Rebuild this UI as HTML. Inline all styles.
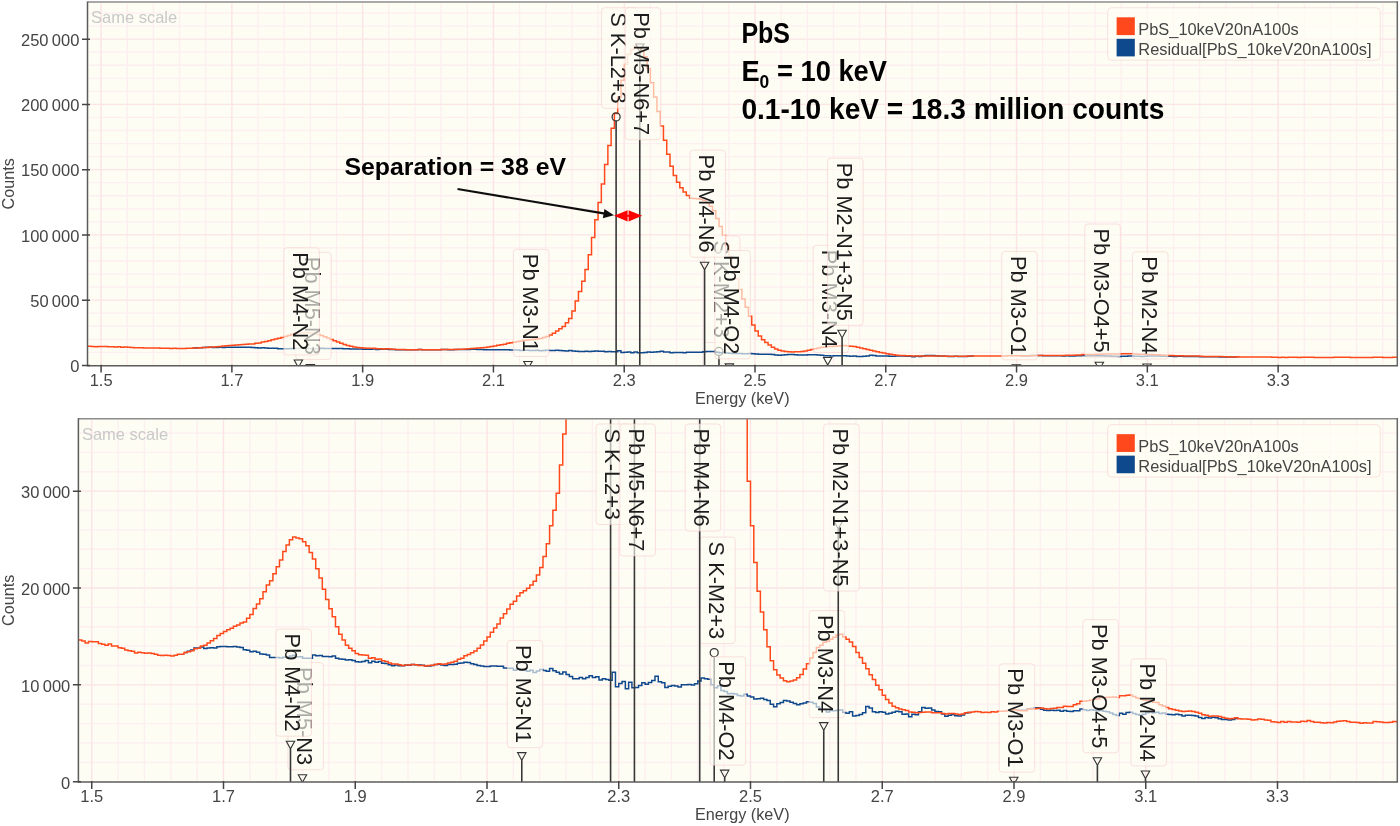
<!DOCTYPE html>
<html lang="en"><head><meta charset="utf-8"><title>PbS EDS spectrum</title>
<style>
html,body{margin:0;padding:0;background:#fff;}
svg{display:block;font-family:'Liberation Sans', Arial, Helvetica, sans-serif;will-change:transform;}
</style></head><body>
<svg width="1400" height="826" viewBox="0 0 1400 826">
<defs><filter id="soft" x="0" y="0" width="1400" height="826" filterUnits="userSpaceOnUse"><feGaussianBlur stdDeviation="0.45"/></filter></defs>
<rect width="1400" height="826" fill="#fff"/>
<g filter="url(#soft)">
<rect width="1400" height="826" fill="#fff"/>
<g id="top">
<clipPath id="clipt"><rect x="87.5" y="1.9" width="1309.8" height="363.85"/></clipPath>
<rect x="87.5" y="1.9" width="1309.8" height="363.85" fill="#fdfdf4"/>
<path d="M127.26 3.4V364.75M153.41 3.4V364.75M179.57 3.4V364.75M205.72 3.4V364.75M258.04 3.4V364.75M284.19 3.4V364.75M310.35 3.4V364.75M336.5 3.4V364.75M388.82 3.4V364.75M414.97 3.4V364.75M441.13 3.4V364.75M467.28 3.4V364.75M519.6 3.4V364.75M545.75 3.4V364.75M571.91 3.4V364.75M598.06 3.4V364.75M650.38 3.4V364.75M676.53 3.4V364.75M702.69 3.4V364.75M728.84 3.4V364.75M781.16 3.4V364.75M807.31 3.4V364.75M833.47 3.4V364.75M859.62 3.4V364.75M911.94 3.4V364.75M938.09 3.4V364.75M964.25 3.4V364.75M990.4 3.4V364.75M1042.72 3.4V364.75M1068.87 3.4V364.75M1095.03 3.4V364.75M1121.18 3.4V364.75M1173.5 3.4V364.75M1199.65 3.4V364.75M1225.81 3.4V364.75M1251.96 3.4V364.75M1304.28 3.4V364.75M1330.43 3.4V364.75M1356.59 3.4V364.75M1382.74 3.4V364.75M89 352.35H1396.3M89 339.3H1396.3M89 326.25H1396.3M89 313.2H1396.3M89 287.1H1396.3M89 274.05H1396.3M89 261H1396.3M89 247.95H1396.3M89 221.85H1396.3M89 208.8H1396.3M89 195.75H1396.3M89 182.7H1396.3M89 156.6H1396.3M89 143.55H1396.3M89 130.5H1396.3M89 117.45H1396.3M89 91.35H1396.3M89 78.3H1396.3M89 65.25H1396.3M89 52.2H1396.3M89 26.1H1396.3M89 13.05H1396.3" stroke="#fdeeef" stroke-width="1.3" fill="none"/>
<path d="M101.1 3.4V364.75M231.88 3.4V364.75M362.66 3.4V364.75M493.44 3.4V364.75M624.22 3.4V364.75M755 3.4V364.75M885.78 3.4V364.75M1016.56 3.4V364.75M1147.34 3.4V364.75M1278.12 3.4V364.75M89 300.15H1396.3M89 234.9H1396.3M89 169.65H1396.3M89 104.4H1396.3M89 39.15H1396.3" stroke="#fce3e6" stroke-width="1.4" fill="none"/>
<text x="91" y="23.3" font-size="16.5" fill="#c9c9c9">Same scale</text>
<g clip-path="url(#clipt)" fill="none" stroke-linejoin="miter">
<path d="M192.65 347.99H195.92V347.83H199.18V347.65H202.45V347.38H205.72V347.37H208.99V347.23H212.26V347.44H215.53V347.4H218.8V347.36H222.07V347.38H225.34V347.22H228.61V347.19H231.88V347.17H235.15V347.21H238.42V347.2H241.69V347.19H244.96V347.26H248.23V347.32H251.5V347.61H254.77V347.69H258.04V347.89H261.31V347.81H264.57V347.96H267.84V348.2H271.11V348.21H274.38V348.31H277.65V348.65H280.92V348.67H284.19V348.68H287.46V348.75H290.73V348.62H294V348.6H297.27V348.47H300.54V348.35H303.81V348.56H307.08V348.56H310.35V348.76H313.62V348.77H316.89V348.77H320.16V348.34H323.43V348.42H326.7V348.38H329.96V348.51H333.23V348.53H336.5V348.57H339.77V348.45H343.04V348.76H346.31V348.87H349.58V348.91H352.85V349.01H356.12V348.98H359.39V349.08H362.66V349.24H365.93V349.26H369.2V349.2H372.47V349.06H375.74V349.38H379.01V349.16H382.28V349.3H385.55V349.22H388.82V349.43H392.09V349.48H395.35V349.64H398.62V349.77H401.89V349.67H405.16V349.77H408.43V349.78H411.7V349.69H414.97V349.72H418.24V349.62H421.51V349.63H424.78V349.68H428.05V349.72H431.32V349.81H434.59V349.81H437.86V349.74H441.13V349.61H444.4V349.56H447.67V349.67H450.94V349.73H454.21V349.62H457.48V349.59H460.74V349.58H464.01V349.42H467.28V349.4H470.55V349.3H473.82V349.34H477.09V349.5H480.36V349.6H483.63V349.73H486.9V349.82H490.17V349.86H493.44V349.86H496.71V349.8H499.98V349.8H503.25V349.85H506.52V349.85H509.79V350.08H513.06V350.11H516.33V350.1H519.6V350.38H522.87V350.23H526.13V350.36H529.4V350.4H532.67V350.51H535.94V350.37H539.21V350.68H542.48V350.47H545.75V350.29H549.02V350.42H552.29V350.52H555.56V350.15H558.83V350.44H562.1V350.66H565.37V350.89H568.64V350.62H571.91V350.96H575.18V351.23H578.45V351.53H581.72V351.51H584.99V351.35H588.26V351.54H591.52V351.37H594.79V351.12H598.06V351.35H601.33V351.25H604.6V351.69H607.87V351.51H611.14V351.64H614.41V351.72H617.68V350.66H620.95V352.6H624.22V352.18H627.49V351.89H630.76V352.86H634.03V352.01H637.3V352.74H640.57V352.72H643.84V352.45H647.11V352.06H650.38V352.25H653.65V352.04H656.91V351.76H660.18V351.2H663.45V351.94H666.72V352.08H669.99V352.71H673.26V352.53H676.53V352.43H679.8V352.51H683.07V352.63H686.34V352.32H689.61V352.32H692.88V352.31H696.15V352.36H699.42V352.21H702.69V351.83H705.96V351.44H709.23V351.52H712.5V351.61H715.77V352.33H719.04V352.73H722.3V352.48H725.57V353.1H728.84V353.26H732.11V353.55H735.38V353.51H738.65V353.57H741.92V353.77H745.19V353.84H748.46V353.62H751.73V353.86H755V353.99H758.27V354.26H761.54V354.21H764.81V354.16H768.08V354.34H771.35V354.44H774.62V354.97H777.89V355.29H781.16V354.91H784.43V354.73H787.69V354.45H790.96V354.51H794.23V354.71H797.5V354.88H800.77V355.02H804.04V354.9H807.31V354.78H810.58V354.63H813.85V354.71H817.12V354.88H820.39V355.35H823.66V355.68H826.93V355.67H830.2V356H833.47V355.82H836.74V355.84H840.01V355.76H843.28V355.75H846.55V356.08H849.82V356.18H853.08V355.98H856.35V356.55H859.62V356.49H862.89V356.34H866.16V356.12H869.43V355.28H872.7V355.48H875.97V355.97H879.24V356.09H882.51V355.98H885.78V356.06H889.05V356.27H892.32V356.17H895.59V356.03H898.86V355.91H902.13V355.96H905.4V356.32H908.67V356.26H911.94V356.64H915.21V356.32H918.47V356.38H921.74V355.98H925.01V355.39H928.28V355.52H931.55V355.46H934.82V355.73H938.09V355.95H941.36V355.97H944.63V356.28H947.9V356.59H951.17V356.43H954.44V356.35H957.71V356.53H960.98V356.56H964.25V356.41H967.52V356.13H970.79V356.08H974.06" stroke="#10488c" stroke-width="1.5"/>
<path d="M1019.83 355.77H1023.1V355.76H1026.37V355.76H1029.64V355.56H1032.91V355.53H1036.18V355.45H1039.45V355.43H1042.72V355.64H1045.99V355.77H1049.25V355.81H1052.52V355.79H1055.79V355.8H1059.06V355.76H1062.33V355.9H1065.6V355.8H1068.87V355.92H1072.14V355.95H1075.41V355.83H1078.68V355.82H1081.95V355.61H1085.22V355.7H1088.49V355.82H1091.76V355.72H1095.03V355.77H1098.3V355.85H1101.57V355.81H1104.84V355.91H1108.11V355.99H1111.38V356.14H1114.64V356.35H1117.91V356.47H1121.18V356.19H1124.45V356.32H1127.72V356.08H1130.99V356.03H1134.26V356.2H1137.53V356.34H1140.8V356.44H1144.07V356.33H1147.34V356.11H1150.61V356.02H1153.88V356.12H1157.15V356.03H1160.42V356.22H1163.69V356.16H1166.96V356.33H1170.23V356.34H1173.5V356.38H1176.77V356.31H1180.03V356.37H1183.3V356.53H1186.57V356.43H1189.84V356.46H1193.11V356.49H1196.38V356.54H1199.65V356.74H1202.92V356.87H1206.19V356.74H1209.46V356.82H1212.73V356.72H1216V356.79H1219.27V356.91H1222.54V357.01H1225.81V357.03H1229.08V357.09H1232.35V357.03H1235.62V356.87H1238.89" stroke="#10488c" stroke-width="1.5"/>
<path d="M87.5 346.29H88.02V346.3H91.29V346.45H94.56V346.71H97.83V346.51H101.1V346.55H104.37V346.56H107.64V346.77H110.91V346.87H114.18V347H117.45V346.83H120.72V347.13H123.99V347.12H127.26V347.36H130.53V347.4H133.79V347.66H137.06V347.76H140.33V347.82H143.6V348.07H146.87V347.96H150.14V348.02H153.41V348.09H156.68V348.06H159.95V348.13H163.22V348.24H166.49V348.37H169.76V348.41H173.03V348.35H176.3V348.41H179.57V348.46H182.84V348.38H186.11V348.21H189.38V348.23H192.65V348.01H195.92V347.89H199.18V347.76H202.45V347.49H205.72V347.41H208.99V347.1H212.26V347.03H215.53V346.69H218.8V346.41H222.07V346.11H225.34V345.68H228.61V345.42H231.88V345.15H235.15V344.94H238.42V344.73H241.69V344.46H244.96V344.27H248.23V344.02H251.5V343.89H254.77V343.36H258.04V342.88H261.31V342.05H264.57V341.45H267.84V340.74H271.11V339.81H274.38V338.91H277.65V338.31H280.92V337.39H284.19V336.43H287.46V335.52H290.73V334.39H294V333.52H297.27V332.8H300.54V332.44H303.81V332.56H307.08V332.65H310.35V333.07H313.62V333.62H316.89V334.51H320.16V335.38H323.43V336.71H326.7V337.97H329.96V339.45H333.23V340.85H336.5V342.1H339.77V343.17H343.04V344.52H346.31V345.52H349.58V346.3H352.85V347.01H356.12V347.4H359.39V347.77H362.66V348.12H365.93V348.28H369.2V348.33H372.47V348.35H375.74V348.77H379.01V348.7H382.28V348.9H385.55V348.86H388.82V349.1H392.09V349.19H395.35V349.41H398.62V349.54H401.89V349.53H405.16V349.64H408.43V349.74H411.7V349.67H414.97V349.67H418.24V349.6H421.51V349.64H424.78V349.73H428.05V349.76H431.32V349.81H434.59V349.75H437.86V349.72H441.13V349.6H444.4V349.52H447.67V349.58H450.94V349.56H454.21V349.4H457.48V349.3H460.74V349.17H464.01V348.92H467.28V348.75H470.55V348.42H473.82V348.26H477.09V348.03H480.36V347.78H483.63V347.42H486.9V346.99H490.17V346.43H493.44V345.89H496.71V345.28H499.98V344.68H503.25V344.13H506.52V343.33H509.79V342.79H513.06V342.14H516.33V341.51H519.6V341.07H522.87V340.37H526.13V339.95H529.4V339.65H532.67V339.33H535.94V338.88H539.21V338.39H542.48V337.55H545.75V336.53H549.02V335.05H552.29V333.34H555.56V330.93H558.83V328.82H562.1V326.54H565.37V322.73H568.64V318.57H571.91V310.98H575.18V300.96H578.45V291.52H581.72V281.31H584.99V269.44H588.26V254.78H591.52V237.4H594.79V219.77H598.06V202.57H601.33V183.96H604.6V164.51H607.87V145.6H611.14V128.23H614.41V113.52H617.68V97.35H620.95V80.3H624.22V64.29H627.49V54.19H630.76V49.56H634.03V46.3H637.3V47.69H640.57V50.45H643.84V56.64H647.11V68.72H650.38V82.74H653.65V96.98H656.91V111.55H660.18V126.11H663.45V140.28H666.72V154.24H669.99V166.28H673.26V175.44H676.53V182.16H679.8V187.7H683.07V192.04H686.34V195.59H689.61V198.15H692.88V198.46H696.15V198.78H699.42V199.35H702.69V200.24H705.96V202.7H709.23V206.14H712.5V210.7H715.77V218.38H719.04V226.57H722.3V235.34H725.57V245.55H728.84V256.46H732.11V267.92H735.38V278.87H738.65V289.62H741.92V298.88H745.19V307.36H748.46V316.35H751.73V324.9H755V330.91H758.27V335.88H761.54V339.75H764.81V342.54H768.08V344.93H771.35V347.22H774.62V349.1H777.89V350.32H781.16V351.03H784.43V351.44H787.69V351.8H790.96V351.94H794.23V351.84H797.5V351.71H800.77V351.4H804.04V350.95H807.31V350.2H810.58V349.5H813.85V348.73H817.12V347.99H820.39V347.31H823.66V347.02H826.93V346.61H830.2V346.49H833.47V346.19H836.74V345.94H840.01V345.65H843.28V345.55H846.55V345.9H849.82V346.21H853.08V346.59H856.35V347.17H859.62V348H862.89V348.67H866.16V349.44H869.43V350.18H872.7V350.99H875.97V351.63H879.24V352.4H882.51V353H885.78V353.74H889.05V354.31H892.32V354.79H895.59V355.23H898.86V355.43H902.13V355.59H905.4V355.72H908.67V355.81H911.94V356H915.21V356.04H918.47V356.12H921.74V356.09H925.01V356.04H928.28V356.02H931.55V356.02H934.82V356.1H938.09V356.11H941.36V356.1H944.63V356.22H947.9V356.26H951.17V356.2H954.44V356.2H957.71V356.27H960.98V356.33H964.25V356.29H967.52V356.1H970.79V356.08H974.06V355.99H977.33V355.95H980.6V355.99H983.86V356.08H987.13V356.04H990.4V356.08H993.67V355.99H996.94V356H1000.21V355.9H1003.48V355.92H1006.75V355.87H1010.02V355.8H1013.29V355.75H1016.56V355.69H1019.83V355.82H1023.1V355.83H1026.37V355.84H1029.64V355.65H1032.91V355.61H1036.18V355.56H1039.45V355.49H1042.72V355.45H1045.99V355.58H1049.25V355.61H1052.52V355.52H1055.79V355.5H1059.06V355.41H1062.33V355.39H1065.6V355.24H1068.87V355.26H1072.14V355.26H1075.41V355.03H1078.68V354.89H1081.95V354.56H1085.22V354.55H1088.49V354.49H1091.76V354.38H1095.03V354.31H1098.3V354.26H1101.57V354.07H1104.84V354.08H1108.11V354.02H1111.38V354.01H1114.64V353.98H1117.91V354.05H1121.18V353.8H1124.45V353.82H1127.72V353.75H1130.99V353.72H1134.26V353.91H1137.53V354.13H1140.8V354.23H1144.07V354.39H1147.34V354.46H1150.61V354.5H1153.88V354.69H1157.15V354.72H1160.42V355.03H1163.69V355.19H1166.96V355.4H1170.23V355.57H1173.5V355.67H1176.77V355.79H1180.03V355.86H1183.3V355.93H1186.57V355.9H1189.84V355.88H1193.11V355.93H1196.38V356.05H1199.65V356.18H1202.92V356.38H1206.19V356.43H1209.46V356.57H1212.73V356.55H1216V356.55H1219.27V356.61H1222.54V356.76H1225.81V356.84H1229.08V356.92H1232.35V356.89H1235.62V356.78H1238.89V356.92H1242.16V356.96H1245.42V356.96H1248.69V356.99H1251.96V357.09H1255.23V357.04H1258.5V356.96H1261.77V356.99H1265.04V357.07H1268.31V357.12H1271.58V357.32H1274.85V357.36H1278.12V357.41H1281.39V357.28H1284.66V357.38H1287.93V357.3H1291.2V357.35H1294.47V357.37H1297.74V357.38H1301.01V357.26H1304.28V357.29H1307.55V357.17H1310.81V357.27H1314.08V357.39H1317.35V357.38H1320.62V357.45H1323.89V357.49H1327.16V357.42H1330.43V357.47H1333.7V357.37H1336.97V357.26H1340.24V357.22H1343.51V357.18H1346.78V357.3H1350.05V357.4H1353.32V357.4H1356.59V357.44H1359.86V357.51H1363.13V357.45H1366.4V357.48H1369.67V357.49H1372.94V357.3H1376.2V357.34H1379.47V357.37H1382.74V357.42H1386.01V357.41H1389.28V357.4H1392.55V357.3H1395.82V357.31H1397.3" stroke="#ff4a1a" stroke-width="1.5"/>
</g>
<g clip-path="url(#clipt)" fill="none">
<circle cx="616.11" cy="116.88" r="4.0" stroke="#333" stroke-width="1.25"/>
<path d="M616.11 120.88V365.75" stroke="#383838" stroke-width="1.6"/>
<rect x="601.56" y="7.75" width="35.5" height="100.49" rx="3" fill="#fdfdf4" fill-opacity="0.64" stroke="#f8c8c8" stroke-opacity="0.55" stroke-width="1"/>
<text transform="translate(610.71 12.25) rotate(90)" font-size="21.8" fill="#1e1e1e">S K-L2+3</text>
<circle cx="718.97" cy="351.47" r="4.0" stroke="#333" stroke-width="1.25"/>
<path d="M718.97 355.47V365.75" stroke="#383838" stroke-width="1.6"/>
<rect x="704.42" y="235.94" width="35.5" height="106.53" rx="3" fill="#fdfdf4" fill-opacity="0.64" stroke="#f8c8c8" stroke-opacity="0.55" stroke-width="1"/>
<text transform="translate(713.57 240.44) rotate(90)" font-size="21.8" fill="#1e1e1e">S K-M2+3</text>
<path d="M1012.1 364.79h8.4l-4.2 7.6z" stroke="#333" stroke-width="1.1"/>
<rect x="1001.75" y="251.45" width="35.5" height="108.34" rx="3" fill="#fdfdf4" fill-opacity="0.64" stroke="#f8c8c8" stroke-opacity="0.55" stroke-width="1"/>
<text transform="translate(1010.9 255.95) rotate(90)" font-size="21.8" fill="#1e1e1e">Pb M3-O1</text>
<path d="M306.08 364.46h8.4l-4.2 7.6z" stroke="#333" stroke-width="1.1"/>
<rect x="295.73" y="252.34" width="35.5" height="107.12" rx="3" fill="#fdfdf4" fill-opacity="0.64" stroke="#f8c8c8" stroke-opacity="0.55" stroke-width="1"/>
<text transform="translate(304.88 256.84) rotate(90)" font-size="21.8" fill="#1e1e1e">Pb M5-N3</text>
<path d="M1142.88 363.96h8.4l-4.2 7.6z" stroke="#333" stroke-width="1.1"/>
<rect x="1132.53" y="251.84" width="35.5" height="107.12" rx="3" fill="#fdfdf4" fill-opacity="0.64" stroke="#f8c8c8" stroke-opacity="0.55" stroke-width="1"/>
<text transform="translate(1141.68 256.34) rotate(90)" font-size="21.8" fill="#1e1e1e">Pb M2-N4</text>
<path d="M725.17 363.85h8.4l-4.2 7.6z" stroke="#333" stroke-width="1.1"/>
<rect x="714.82" y="250.5" width="35.5" height="108.34" rx="3" fill="#fdfdf4" fill-opacity="0.64" stroke="#f8c8c8" stroke-opacity="0.55" stroke-width="1"/>
<text transform="translate(723.97 255) rotate(90)" font-size="21.8" fill="#1e1e1e">Pb M4-O2</text>
<path d="M1095.14 362.18h8.4l-4.2 7.6z" stroke="#333" stroke-width="1.1"/>
<rect x="1084.79" y="223.98" width="35.5" height="133.19" rx="3" fill="#fdfdf4" fill-opacity="0.64" stroke="#f8c8c8" stroke-opacity="0.55" stroke-width="1"/>
<text transform="translate(1093.94 228.48) rotate(90)" font-size="21.8" fill="#1e1e1e">Pb M3-O4+5</text>
<path d="M523.77 361.48h8.4l-4.2 7.6z" stroke="#333" stroke-width="1.1"/>
<rect x="513.42" y="249.36" width="35.5" height="107.12" rx="3" fill="#fdfdf4" fill-opacity="0.64" stroke="#f8c8c8" stroke-opacity="0.55" stroke-width="1"/>
<text transform="translate(522.57 253.86) rotate(90)" font-size="21.8" fill="#1e1e1e">Pb M3-N1</text>
<path d="M294.18 359.95h8.4l-4.2 7.6z" stroke="#333" stroke-width="1.1"/>
<rect x="283.83" y="247.82" width="35.5" height="107.12" rx="3" fill="#fdfdf4" fill-opacity="0.64" stroke="#f8c8c8" stroke-opacity="0.55" stroke-width="1"/>
<text transform="translate(292.98 252.32) rotate(90)" font-size="21.8" fill="#1e1e1e">Pb M4-N2</text>
<path d="M823.51 357.45h8.4l-4.2 7.6z" stroke="#333" stroke-width="1.1"/>
<path d="M827.71 365.05V365.75" stroke="#383838" stroke-width="1.6"/>
<rect x="813.16" y="245.32" width="35.5" height="107.12" rx="3" fill="#fdfdf4" fill-opacity="0.64" stroke="#f8c8c8" stroke-opacity="0.55" stroke-width="1"/>
<text transform="translate(822.31 249.82) rotate(90)" font-size="21.8" fill="#1e1e1e">Pb M3-N4</text>
<path d="M837.9 330.3h8.4l-4.2 7.6z" stroke="#333" stroke-width="1.1"/>
<path d="M842.1 337.9V365.75" stroke="#383838" stroke-width="1.6"/>
<rect x="827.55" y="158.2" width="35.5" height="167.09" rx="3" fill="#fdfdf4" fill-opacity="0.64" stroke="#f8c8c8" stroke-opacity="0.55" stroke-width="1"/>
<text transform="translate(836.7 162.7) rotate(90)" font-size="21.8" fill="#1e1e1e">Pb M2-N1+3-N5</text>
<path d="M700.38 262.24h8.4l-4.2 7.6z" stroke="#333" stroke-width="1.1"/>
<path d="M704.58 269.84V365.75" stroke="#383838" stroke-width="1.6"/>
<rect x="690.03" y="150.12" width="35.5" height="107.12" rx="3" fill="#fdfdf4" fill-opacity="0.64" stroke="#f8c8c8" stroke-opacity="0.55" stroke-width="1"/>
<text transform="translate(699.18 154.62) rotate(90)" font-size="21.8" fill="#1e1e1e">Pb M4-N6</text>
<path d="M635.58 44.04h8.4l-4.2 7.6z" stroke="#333" stroke-width="1.1"/>
<path d="M639.78 51.64V365.75" stroke="#383838" stroke-width="1.6"/>
<rect x="625.23" y="7.75" width="35.5" height="131.97" rx="3" fill="#fdfdf4" fill-opacity="0.64" stroke="#f8c8c8" stroke-opacity="0.55" stroke-width="1"/>
<text transform="translate(634.38 12.25) rotate(90)" font-size="21.8" fill="#1e1e1e">Pb M5-N6+7</text>
</g>
<path d="M87.5 1.9H1398" stroke="#8c8c8c" stroke-width="1.5" fill="none"/>
<path d="M1397.3 1.2V365.75" stroke="#686868" stroke-width="1.5" fill="none"/>
<path d="M87.5 1.4V365.75H1398" stroke="#5c5c5c" stroke-width="1.5" fill="none"/>
<path d="M82 365.4H90M82 300.15H90M82 234.9H90M82 169.65H90M82 104.4H90M82 39.15H90M101.1 364.75V372.55M231.88 364.75V372.55M362.66 364.75V372.55M493.44 364.75V372.55M624.22 364.75V372.55M755 364.75V372.55M885.78 364.75V372.55M1016.56 364.75V372.55M1147.34 364.75V372.55M1278.12 364.75V372.55" stroke="#444" stroke-width="1.5" fill="none"/>
<text x="79.4" y="372.2" text-anchor="end" font-size="16.5" fill="#444">0</text>
<text x="79.4" y="306.95" text-anchor="end" font-size="16.5" fill="#444">50 000</text>
<text x="79.4" y="241.7" text-anchor="end" font-size="16.5" fill="#444">100 000</text>
<text x="79.4" y="176.45" text-anchor="end" font-size="16.5" fill="#444">150 000</text>
<text x="79.4" y="111.2" text-anchor="end" font-size="16.5" fill="#444">200 000</text>
<text x="79.4" y="45.95" text-anchor="end" font-size="16.5" fill="#444">250 000</text>
<text x="101.1" y="385.65" text-anchor="middle" font-size="16.5" fill="#444">1.5</text>
<text x="231.88" y="385.65" text-anchor="middle" font-size="16.5" fill="#444">1.7</text>
<text x="362.66" y="385.65" text-anchor="middle" font-size="16.5" fill="#444">1.9</text>
<text x="493.44" y="385.65" text-anchor="middle" font-size="16.5" fill="#444">2.1</text>
<text x="624.22" y="385.65" text-anchor="middle" font-size="16.5" fill="#444">2.3</text>
<text x="755" y="385.65" text-anchor="middle" font-size="16.5" fill="#444">2.5</text>
<text x="885.78" y="385.65" text-anchor="middle" font-size="16.5" fill="#444">2.7</text>
<text x="1016.56" y="385.65" text-anchor="middle" font-size="16.5" fill="#444">2.9</text>
<text x="1147.34" y="385.65" text-anchor="middle" font-size="16.5" fill="#444">3.1</text>
<text x="1278.12" y="385.65" text-anchor="middle" font-size="16.5" fill="#444">3.3</text>
<text transform="translate(14.4 183.82) rotate(-90)" text-anchor="middle" font-size="16.2" fill="#444">Counts</text>
<text x="742.3" y="403.5" text-anchor="middle" font-size="16.2" fill="#444">Energy (keV)</text>
<rect x="1107.7" y="7.8" width="272.5" height="52.4" rx="4" fill="#fdfdf4" fill-opacity="0.75" stroke="#f8c8c8" stroke-opacity="0.5"/>
<rect x="1116.6" y="17.3" width="18.2" height="17.8" fill="#ff4a1a"/>
<rect x="1116.6" y="38.8" width="18.2" height="17.6" fill="#10488c"/>
<text x="1138.3" y="34.9" font-size="16.4" fill="#444">PbS_10keV20nA100s</text>
<text x="1138.3" y="55.3" font-size="16.4" fill="#444">Residual[PbS_10keV20nA100s]</text>
<g font-weight="bold" fill="#000">
<text x="741.4" y="42.7" font-size="29" textLength="48.6" lengthAdjust="spacingAndGlyphs">PbS</text>
<text x="741.4" y="81.2" font-size="29" textLength="145.6" lengthAdjust="spacingAndGlyphs">E<tspan font-size="18.5" dy="6.5">0</tspan><tspan dy="-6.5"> = 10 keV</tspan></text>
<text x="741.4" y="119" font-size="29" textLength="423" lengthAdjust="spacingAndGlyphs">0.1-10 keV = 18.3 million counts</text>
<text x="344.5" y="175" font-size="24.5" textLength="221.5" lengthAdjust="spacingAndGlyphs">Separation = 38 eV</text>
</g>
<path d="M457.5 189L605 213.6" stroke="#111" stroke-width="2.2" fill="none"/>
<path d="M614 215.2l-11.2 3.1l1.6-9.4z" fill="#111"/>
<path d="M614 215.8L627.6 210.2V221.4zM642.2 215.8L628.6 210.2V221.4z" fill="#ff0000"/><path d="M620 215.8H636" stroke="#ff0000" stroke-width="2"/>
</g>
<g id="bottom">
<clipPath id="clipb"><rect x="78.4" y="418.75" width="1318.9" height="363.35"/></clipPath>
<rect x="78.4" y="418.75" width="1318.9" height="363.35" fill="#fdfdf4"/>
<path d="M118.1 420.25V781.1M144.45 420.25V781.1M170.8 420.25V781.1M197.15 420.25V781.1M249.85 420.25V781.1M276.2 420.25V781.1M302.55 420.25V781.1M328.9 420.25V781.1M381.6 420.25V781.1M407.95 420.25V781.1M434.3 420.25V781.1M460.65 420.25V781.1M513.35 420.25V781.1M539.7 420.25V781.1M566.05 420.25V781.1M592.4 420.25V781.1M645.1 420.25V781.1M671.45 420.25V781.1M697.8 420.25V781.1M724.15 420.25V781.1M776.85 420.25V781.1M803.2 420.25V781.1M829.55 420.25V781.1M855.9 420.25V781.1M908.6 420.25V781.1M934.95 420.25V781.1M961.3 420.25V781.1M987.65 420.25V781.1M1040.35 420.25V781.1M1066.7 420.25V781.1M1093.05 420.25V781.1M1119.4 420.25V781.1M1172.1 420.25V781.1M1198.45 420.25V781.1M1224.8 420.25V781.1M1251.15 420.25V781.1M1303.85 420.25V781.1M1330.2 420.25V781.1M1356.55 420.25V781.1M1382.9 420.25V781.1M79.9 762.33H1396.3M79.9 742.96H1396.3M79.9 723.59H1396.3M79.9 704.22H1396.3M79.9 665.48H1396.3M79.9 646.11H1396.3M79.9 626.74H1396.3M79.9 607.37H1396.3M79.9 568.63H1396.3M79.9 549.26H1396.3M79.9 529.89H1396.3M79.9 510.52H1396.3M79.9 471.78H1396.3M79.9 452.41H1396.3M79.9 433.04H1396.3" stroke="#fdeeef" stroke-width="1.3" fill="none"/>
<path d="M91.75 420.25V781.1M223.5 420.25V781.1M355.25 420.25V781.1M487 420.25V781.1M618.75 420.25V781.1M750.5 420.25V781.1M882.25 420.25V781.1M1014 420.25V781.1M1145.75 420.25V781.1M1277.5 420.25V781.1M79.9 684.85H1396.3M79.9 588H1396.3M79.9 491.15H1396.3" stroke="#fce3e6" stroke-width="1.4" fill="none"/>
<text x="81.9" y="440.15" font-size="16.5" fill="#c9c9c9">Same scale</text>
<g clip-path="url(#clipb)" fill="none" stroke-linejoin="miter">
<path d="M183.97 652.52H187.27V651.3H190.56V649.99H193.86V647.98H197.15V647.91H200.44V646.89H203.74V648.38H207.03V648.09H210.32V647.81H213.62V647.95H216.91V646.8H220.21V646.56H223.5V646.41H226.79V646.71H230.09V646.65H233.38V646.52H236.67V647.07H239.97V647.54H243.26V649.69H246.56V650.26H249.85V651.75H253.14V651.19H256.44V652.29H259.73V654.07H263.02V654.15H266.32V654.89H269.61V657.43H272.91V657.53H276.2V657.58H279.49V658.1H282.79V657.18H286.08V657.02H289.37V656.02H292.67V655.2H295.96V656.71H299.26V656.71H302.55V658.24H305.84V658.3H309.14V658.31H312.43V655.06H315.72V655.7H319.02V655.39H322.31V656.38H325.61V656.47H328.9V656.83H332.19V655.91H335.49V658.18H338.78V659H342.07V659.32H345.37V660.09H348.66V659.85H351.96V660.56H355.25V661.75H358.54V661.95H361.84V661.48H365.13V660.44H368.42V662.8H371.72V661.14H375.01V662.22H378.31V661.6H381.6V663.21H384.89V663.57H388.19V664.71H391.48V665.72H394.77V664.96H398.07V665.69H401.36V665.8H404.66V665.11H407.95V665.34H411.24V664.56H414.54V664.68H417.83V665.01H421.12V665.34H424.42V666.03H427.71V666.03H431.01V665.51H434.3V664.51H437.59V664.14H440.89V664.93H444.18V665.42H447.47V664.59H450.77V664.38H454.06V664.31H457.36V663.14H460.65V662.99H463.94V662.18H467.24V662.5H470.53V663.68H473.82V664.47H477.12V665.4H480.41V666.08H483.71V666.4H487V666.38H490.29V665.91H493.59V665.91H496.88V666.27H500.17V666.28H503.47V667.98H506.76V668.25H510.06V668.16H513.35V670.23H516.64V669.08H519.94V670.07H523.23V670.37H526.52V671.19H529.82V670.13H533.11V672.46H536.41V670.88H539.7V669.56H542.99V670.54H546.29V671.26H549.58V668.55H552.87V670.69H556.17V672.31H559.46V674.03H562.76V672.04H566.05V674.52H569.34V676.57H572.64V678.78H575.93V678.63H579.22V677.41H582.52V678.87H585.81V677.56H589.11V675.73H592.4V677.46H595.69V676.71H598.99V679.93H602.28V678.65H605.57V679.6H608.87V680.18H612.16V672.29H615.46V686.68H618.75V683.6H622.04V681.45H625.34V688.64H628.63V682.31H631.92V687.74H635.22V687.6H638.51V685.6H641.81V682.69H645.1V684.14H648.39V682.56H651.69V680.45H654.98V676.31H658.27V681.8H661.57V682.86H664.86V687.5H668.16V686.17H671.45V685.45H674.74V686.05H678.04V686.95H681.33V684.64H684.62V684.66H687.92V684.59H691.21V684.95H694.51V683.78H697.8V680.98H701.09V678.08H704.39V678.69H707.68V679.37H710.97V684.74H714.27V687.68H717.56V685.85H720.86V690.41H724.15V691.58H727.44V693.79H730.74V693.49H734.03V693.89H737.32V695.42H740.62V695.9H743.91V694.27H747.21V696.06H750.5V696.99H753.79V699.01H757.09V698.66H760.38V698.27H763.67V699.61H766.97V700.4H770.26V704.31H773.56V706.69H776.85V703.87H780.14V702.51H783.44V700.47H786.73V700.89H790.02V702.37H793.32V703.62H796.61V704.65H799.91V703.77H803.2V702.89H806.49V701.76H809.79V702.33H813.08V703.59H816.37V707.09H819.67V709.57H822.96V709.45H826.26V711.9H829.55V710.62H832.84V710.78H836.14V710.15H839.43V710.07H842.72V712.54H846.02V713.31H849.31V711.79H852.61V716.05H855.9V715.56H859.19V714.43H862.49V712.86H865.78V706.56H869.07V708.05H872.37V711.74H875.66V712.6H878.96V711.8H882.25V712.35H885.54V713.91H888.84V713.19H892.13V712.14H895.42V711.25H898.72V711.64H902.01V714.35H905.31V713.89H908.6V716.67H911.89V714.32H915.19V714.77H918.48V711.76H921.77V707.38H925.07V708.34H928.36V707.96H931.66V709.92H934.95V711.57H938.24V711.72H941.54V714H944.83V716.34H948.12V715.15H951.42V714.55H954.71V715.86H958.01V716.08H961.3V714.99H964.59V712.88H967.89V712.54H971.18" stroke="#10488c" stroke-width="1.5"/>
<path d="M1017.29 710.22H1020.59V710.14H1023.88V710.19H1027.17V708.64H1030.47V708.45H1033.76V707.85H1037.06V707.7H1040.35V709.27H1043.64V710.24H1046.94V710.56H1050.23V710.35H1053.52V710.42H1056.82V710.14H1060.11V711.19H1063.41V710.44H1066.7V711.35H1069.99V711.58H1073.29V710.65H1076.58V710.63H1079.87V709.05H1083.17V709.71H1086.46V710.6H1089.76V709.85H1093.05V710.26H1096.34V710.8H1099.64V710.52H1102.93V711.3H1106.22V711.84H1109.52V713.01H1112.81V714.56H1116.11V715.42H1119.4V713.35H1122.69V714.32H1125.99V712.5H1129.28V712.14H1132.57V713.43H1135.87V714.45H1139.16V715.17H1142.46V714.37H1145.75V712.75H1149.04V712.07H1152.34V712.8H1155.63V712.2H1158.92V713.58H1162.22V713.11H1165.51V714.35H1168.81V714.43H1172.1V714.76H1175.39V714.23H1178.69V714.66H1181.98V715.89H1185.27V715.17H1188.57V715.34H1191.86V715.61H1195.16V715.98H1198.45V717.41H1201.74V718.4H1205.04V717.44H1208.33V718.04H1211.62V717.28H1214.92V717.8H1218.21V718.67H1221.51V719.42H1224.8V719.56H1228.09V720.03H1231.39V719.61H1234.68V718.39H1237.97" stroke="#10488c" stroke-width="1.5"/>
<path d="M78.4 639.86H78.57V639.92H81.87V641.08H85.16V643.01H88.46V641.48H91.75V641.83H95.04V641.87H98.34V643.43H101.63V644.19H104.92V645.14H108.22V643.88H111.51V646.12H114.81V646.04H118.1V647.8H121.39V648.14H124.69V650.05H127.98V650.8H131.27V651.26H134.57V653.05H137.86V652.29H141.16V652.71H144.45V653.24H147.74V652.99H151.04V653.54H154.33V654.33H157.62V655.31H160.92V655.61H164.21V655.18H167.51V655.57H170.8V655.95H174.09V655.36H177.39V654.15H180.68V654.25H183.97V652.61H187.27V651.73H190.56V650.8H193.86V648.8H197.15V648.17H200.44V645.88H203.74V645.37H207.03V642.88H210.32V640.78H213.62V638.54H216.91V635.38H220.21V633.42H223.5V631.39H226.79V629.83H230.09V628.26H233.38V626.27H236.67V624.88H239.97V623.04H243.26V622.09H246.56V618.15H249.85V614.56H253.14V608.41H256.44V603.98H259.73V598.69H263.02V591.81H266.32V585.1H269.61V580.64H272.91V573.8H276.2V566.68H279.49V559.92H282.79V551.54H286.08V545.08H289.37V539.74H292.67V537.06H295.96V538.01H299.26V538.63H302.55V541.79H305.84V545.84H309.14V552.42H312.43V558.89H315.72V568.75H319.02V578.12H322.31V589.13H325.61V599.49H328.9V608.8H332.19V616.75H335.49V626.71H338.78V634.14H342.07V639.94H345.37V645.25H348.66V648.14H351.96V650.82H355.25V653.49H358.54V654.66H361.84V655H365.13V655.13H368.42V658.27H371.72V657.79H375.01V659.27H378.31V658.96H381.6V660.76H384.89V661.39H388.19V663H391.48V664.02H394.77V663.91H398.07V664.77H401.36V665.47H404.66V664.99H407.95V664.94H411.24V664.43H414.54V664.77H417.83V665.41H421.12V665.6H424.42V665.99H427.71V665.53H431.01V665.34H434.3V664.42H437.59V663.83H440.89V664.32H444.18V664.11H447.47V662.92H450.77V662.2H454.06V661.24H457.36V659.37H460.65V658.14H463.94V655.72H467.24V654.48H470.53V652.76H473.82V650.91H477.12V648.26H480.41V645.09H483.71V640.95H487V636.9H490.29V632.36H493.59V627.94H496.88V623.88H500.17V617.93H503.47V613.87H506.76V609.06H510.06V604.37H513.35V601.13H516.64V595.97H519.94V592.79H523.23V590.63H526.52V588.23H529.82V584.91H533.11V581.25H536.41V575.03H539.7V567.46H542.99V556.49H546.29V543.8H549.58V525.87H552.87V510.21H556.17V493.28H559.46V465H562.76V434.12H566.05V377.82H569.34V303.47H572.64V233.39H575.93V157.65H579.22V69.53H582.52V-39.26H585.81V-168.26H589.11V-299.08H592.4V-426.72H595.69V-564.87H598.99V-709.21H602.28V-849.56H605.57V-978.43H608.87V-1087.62H612.16V-1207.6H615.46V-1334.14H618.75V-1452.98H622.04V-1527.94H625.34V-1562.28H628.63V-1586.49H631.92V-1576.16H635.22V-1555.66H638.51V-1509.74H641.81V-1420.12H645.1V-1316.05H648.39V-1210.34H651.69V-1102.27H654.98V-994.21H658.27V-889.01H661.57V-785.44H664.86V-696.09H668.16V-628.1H671.45V-578.21H674.74V-537.07H678.04V-504.88H681.33V-478.56H684.62V-459.51H687.92V-457.22H691.21V-454.85H694.51V-450.64H697.8V-444.03H701.09V-425.8H704.39V-400.22H707.68V-366.4H710.97V-309.44H714.27V-248.64H717.56V-183.55H720.86V-107.73H724.15V-26.82H727.44V58.23H730.74V139.55H734.03V219.29H737.32V288.05H740.62V350.96H743.91V417.7H747.21V481.13H750.5V525.7H753.79V562.61H757.09V591.31H760.38V612.07H763.67V629.75H766.97V646.76H770.26V660.72H773.56V669.78H776.85V675.06H780.14V678.1H783.44V680.76H786.73V681.79H790.02V681.09H793.32V680.12H796.61V677.8H799.91V674.44H803.2V668.9H806.49V663.73H809.79V657.99H813.08V652.52H816.37V647.47H819.67V645.3H822.96V642.24H826.26V641.35H829.55V639.16H832.84V637.29H836.14V635.11H839.43V634.37H842.72V636.97H846.02V639.31H849.31V642.1H852.61V646.44H855.9V652.56H859.19V657.57H862.49V663.29H865.78V668.77H869.07V674.77H872.37V679.53H875.66V685.2H878.96V689.68H882.25V695.13H885.54V699.41H888.84V702.97H892.13V706.25H895.42V707.68H898.72V708.9H902.01V709.86H905.31V710.56H908.6V711.97H911.89V712.2H915.19V712.79H918.48V712.62H921.77V712.27H925.07V712.09H928.36V712.08H931.66V712.67H934.95V712.79H938.24V712.68H941.54V713.57H944.83V713.9H948.12V713.41H951.42V713.41H954.71V713.95H958.01V714.38H961.3V714.12H964.59V712.65H967.89V712.54H971.18V711.88H974.47V711.6H977.77V711.86H981.06V712.52H984.36V712.23H987.65V712.51H990.94V711.87H994.24V711.91H997.53V711.18H1000.82V711.32H1004.12V711H1007.41V710.43H1010.71V710.07H1014V709.63H1017.29V710.58H1020.59V710.71H1023.88V710.73H1027.17V709.3H1030.47V709.07H1033.76V708.71H1037.06V708.19H1040.35V707.89H1043.64V708.85H1046.94V709.01H1050.23V708.39H1053.52V708.26H1056.82V707.54H1060.11V707.39H1063.41V706.28H1066.7V706.46H1069.99V706.44H1073.29V704.73H1076.58V703.73H1079.87V701.23H1083.17V701.17H1086.46V700.74H1089.76V699.93H1093.05V699.37H1096.34V699.01H1099.64V697.6H1102.93V697.65H1106.22V697.24H1109.52V697.17H1112.81V696.95H1116.11V697.45H1119.4V695.63H1122.69V695.73H1125.99V695.22H1129.28V695.02H1132.57V696.4H1135.87V698.03H1139.16V698.81H1142.46V699.96H1145.75V700.49H1149.04V700.8H1152.34V702.25H1155.63V702.42H1158.92V704.71H1162.22V705.9H1165.51V707.51H1168.81V708.76H1172.1V709.52H1175.39V710.36H1178.69V710.9H1181.98V711.44H1185.27V711.23H1188.57V711.06H1191.86V711.44H1195.16V712.28H1198.45V713.27H1201.74V714.76H1205.04V715.16H1208.33V716.17H1211.62V716.01H1214.92V716.03H1218.21V716.44H1221.51V717.58H1224.8V718.21H1228.09V718.78H1231.39V718.57H1234.68V717.75H1237.97V718.75H1241.27V719.09H1244.56V719.09H1247.86V719.29H1251.15V720.04H1254.44V719.63H1257.74V719.08H1261.03V719.32H1264.32V719.89H1267.62V720.24H1270.91V721.71H1274.21V722.05H1277.5V722.38H1280.79V721.46H1284.09V722.17H1287.38V721.61H1290.67V721.98H1293.97V722.07H1297.26V722.14H1300.56V721.27H1303.85V721.54H1307.14V720.61H1310.44V721.38H1313.73V722.24H1317.02V722.21H1320.32V722.7H1323.61V723H1326.91V722.48H1330.2V722.83H1333.49V722.12H1336.79V721.27H1340.08V721H1343.37V720.68H1346.67V721.59H1349.96V722.35H1353.26V722.29H1356.55V722.61H1359.84V723.13H1363.14V722.73H1366.43V722.89H1369.72V722.96H1373.02V721.62H1376.31V721.87H1379.61V722.12H1382.9V722.49H1386.19V722.4H1389.49V722.35H1392.78V721.58H1396.07V721.65H1397.3" stroke="#ff4a1a" stroke-width="1.5"/>
</g>
<g clip-path="url(#clipb)" fill="none">
<circle cx="610.58" cy="-1088.35" r="4.0" stroke="#333" stroke-width="1.25"/>
<path d="M610.58 -1084.35V782.1" stroke="#383838" stroke-width="1.6"/>
<rect x="596.03" y="424" width="35.5" height="100.49" rx="3" fill="#fdfdf4" fill-opacity="0.64" stroke="#f8c8c8" stroke-opacity="0.55" stroke-width="1"/>
<text transform="translate(605.18 428.5) rotate(90)" font-size="21.8" fill="#1e1e1e">S K-L2+3</text>
<circle cx="714.2" cy="652.63" r="4.0" stroke="#333" stroke-width="1.25"/>
<path d="M714.2 656.63V782.1" stroke="#383838" stroke-width="1.6"/>
<rect x="699.65" y="537.09" width="35.5" height="106.53" rx="3" fill="#fdfdf4" fill-opacity="0.64" stroke="#f8c8c8" stroke-opacity="0.55" stroke-width="1"/>
<text transform="translate(708.8 541.59) rotate(90)" font-size="21.8" fill="#1e1e1e">S K-M2+3</text>
<path d="M1009.54 777.2h8.4l-4.2 7.6z" stroke="#333" stroke-width="1.1"/>
<rect x="999.19" y="663.85" width="35.5" height="108.34" rx="3" fill="#fdfdf4" fill-opacity="0.64" stroke="#f8c8c8" stroke-opacity="0.55" stroke-width="1"/>
<text transform="translate(1008.34 668.35) rotate(90)" font-size="21.8" fill="#1e1e1e">Pb M3-O1</text>
<path d="M298.28 774.73h8.4l-4.2 7.6z" stroke="#333" stroke-width="1.1"/>
<rect x="287.93" y="662.61" width="35.5" height="107.12" rx="3" fill="#fdfdf4" fill-opacity="0.64" stroke="#f8c8c8" stroke-opacity="0.55" stroke-width="1"/>
<text transform="translate(297.08 667.11) rotate(90)" font-size="21.8" fill="#1e1e1e">Pb M5-N3</text>
<path d="M1141.29 771h8.4l-4.2 7.6z" stroke="#333" stroke-width="1.1"/>
<path d="M1145.49 778.6V782.1" stroke="#383838" stroke-width="1.6"/>
<rect x="1130.94" y="658.88" width="35.5" height="107.12" rx="3" fill="#fdfdf4" fill-opacity="0.64" stroke="#f8c8c8" stroke-opacity="0.55" stroke-width="1"/>
<text transform="translate(1140.09 663.38) rotate(90)" font-size="21.8" fill="#1e1e1e">Pb M2-N4</text>
<path d="M720.48 770.17h8.4l-4.2 7.6z" stroke="#333" stroke-width="1.1"/>
<path d="M724.68 777.77V782.1" stroke="#383838" stroke-width="1.6"/>
<rect x="710.13" y="656.83" width="35.5" height="108.34" rx="3" fill="#fdfdf4" fill-opacity="0.64" stroke="#f8c8c8" stroke-opacity="0.55" stroke-width="1"/>
<text transform="translate(719.28 661.33) rotate(90)" font-size="21.8" fill="#1e1e1e">Pb M4-O2</text>
<path d="M1093.2 757.78h8.4l-4.2 7.6z" stroke="#333" stroke-width="1.1"/>
<path d="M1097.4 765.38V782.1" stroke="#383838" stroke-width="1.6"/>
<rect x="1082.85" y="619.58" width="35.5" height="133.19" rx="3" fill="#fdfdf4" fill-opacity="0.64" stroke="#f8c8c8" stroke-opacity="0.55" stroke-width="1"/>
<text transform="translate(1092 624.08) rotate(90)" font-size="21.8" fill="#1e1e1e">Pb M3-O4+5</text>
<path d="M517.58 752.65h8.4l-4.2 7.6z" stroke="#333" stroke-width="1.1"/>
<path d="M521.78 760.25V782.1" stroke="#383838" stroke-width="1.6"/>
<rect x="507.23" y="640.52" width="35.5" height="107.12" rx="3" fill="#fdfdf4" fill-opacity="0.64" stroke="#f8c8c8" stroke-opacity="0.55" stroke-width="1"/>
<text transform="translate(516.38 645.02) rotate(90)" font-size="21.8" fill="#1e1e1e">Pb M3-N1</text>
<path d="M286.29 741.22h8.4l-4.2 7.6z" stroke="#333" stroke-width="1.1"/>
<path d="M290.49 748.82V782.1" stroke="#383838" stroke-width="1.6"/>
<rect x="275.94" y="629.09" width="35.5" height="107.12" rx="3" fill="#fdfdf4" fill-opacity="0.64" stroke="#f8c8c8" stroke-opacity="0.55" stroke-width="1"/>
<text transform="translate(285.09 633.59) rotate(90)" font-size="21.8" fill="#1e1e1e">Pb M4-N2</text>
<path d="M819.55 722.67h8.4l-4.2 7.6z" stroke="#333" stroke-width="1.1"/>
<path d="M823.75 730.27V782.1" stroke="#383838" stroke-width="1.6"/>
<rect x="809.2" y="610.55" width="35.5" height="107.12" rx="3" fill="#fdfdf4" fill-opacity="0.64" stroke="#f8c8c8" stroke-opacity="0.55" stroke-width="1"/>
<text transform="translate(818.35 615.05) rotate(90)" font-size="21.8" fill="#1e1e1e">Pb M3-N4</text>
<path d="M834.05 521.17h8.4l-4.2 7.6z" stroke="#333" stroke-width="1.1"/>
<path d="M838.25 528.77V782.1" stroke="#383838" stroke-width="1.6"/>
<rect x="823.7" y="424" width="35.5" height="167.09" rx="3" fill="#fdfdf4" fill-opacity="0.64" stroke="#f8c8c8" stroke-opacity="0.55" stroke-width="1"/>
<text transform="translate(832.85 428.5) rotate(90)" font-size="21.8" fill="#1e1e1e">Pb M2-N1+3-N5</text>
<path d="M695.51 16.1h8.4l-4.2 7.6z" stroke="#333" stroke-width="1.1"/>
<path d="M699.71 23.7V782.1" stroke="#383838" stroke-width="1.6"/>
<rect x="685.16" y="424" width="35.5" height="107.12" rx="3" fill="#fdfdf4" fill-opacity="0.64" stroke="#f8c8c8" stroke-opacity="0.55" stroke-width="1"/>
<text transform="translate(694.31 428.5) rotate(90)" font-size="21.8" fill="#1e1e1e">Pb M4-N6</text>
<path d="M630.23 -1603.23h8.4l-4.2 7.6z" stroke="#333" stroke-width="1.1"/>
<path d="M634.43 -1595.63V782.1" stroke="#383838" stroke-width="1.6"/>
<rect x="619.88" y="424" width="35.5" height="131.97" rx="3" fill="#fdfdf4" fill-opacity="0.64" stroke="#f8c8c8" stroke-opacity="0.55" stroke-width="1"/>
<text transform="translate(629.03 428.5) rotate(90)" font-size="21.8" fill="#1e1e1e">Pb M5-N6+7</text>
</g>
<path d="M78.4 418.75H1398" stroke="#8c8c8c" stroke-width="1.5" fill="none"/>
<path d="M1397.3 418.05V782.1" stroke="#686868" stroke-width="1.5" fill="none"/>
<path d="M78.4 418.25V782.1H1398" stroke="#5c5c5c" stroke-width="1.5" fill="none"/>
<path d="M72.9 781.7H80.9M72.9 684.85H80.9M72.9 588H80.9M72.9 491.15H80.9M91.75 781.1V788.9M223.5 781.1V788.9M355.25 781.1V788.9M487 781.1V788.9M618.75 781.1V788.9M750.5 781.1V788.9M882.25 781.1V788.9M1014 781.1V788.9M1145.75 781.1V788.9M1277.5 781.1V788.9" stroke="#444" stroke-width="1.5" fill="none"/>
<text x="70.3" y="788.5" text-anchor="end" font-size="16.5" fill="#444">0</text>
<text x="70.3" y="691.65" text-anchor="end" font-size="16.5" fill="#444">10 000</text>
<text x="70.3" y="594.8" text-anchor="end" font-size="16.5" fill="#444">20 000</text>
<text x="70.3" y="497.95" text-anchor="end" font-size="16.5" fill="#444">30 000</text>
<text x="91.75" y="802" text-anchor="middle" font-size="16.5" fill="#444">1.5</text>
<text x="223.5" y="802" text-anchor="middle" font-size="16.5" fill="#444">1.7</text>
<text x="355.25" y="802" text-anchor="middle" font-size="16.5" fill="#444">1.9</text>
<text x="487" y="802" text-anchor="middle" font-size="16.5" fill="#444">2.1</text>
<text x="618.75" y="802" text-anchor="middle" font-size="16.5" fill="#444">2.3</text>
<text x="750.5" y="802" text-anchor="middle" font-size="16.5" fill="#444">2.5</text>
<text x="882.25" y="802" text-anchor="middle" font-size="16.5" fill="#444">2.7</text>
<text x="1014" y="802" text-anchor="middle" font-size="16.5" fill="#444">2.9</text>
<text x="1145.75" y="802" text-anchor="middle" font-size="16.5" fill="#444">3.1</text>
<text x="1277.5" y="802" text-anchor="middle" font-size="16.5" fill="#444">3.3</text>
<text transform="translate(14.4 600.42) rotate(-90)" text-anchor="middle" font-size="16.2" fill="#444">Counts</text>
<text x="742.3" y="819.85" text-anchor="middle" font-size="16.2" fill="#444">Energy (keV)</text>
<rect x="1107.7" y="424.65" width="272.5" height="52.4" rx="4" fill="#fdfdf4" fill-opacity="0.75" stroke="#f8c8c8" stroke-opacity="0.5"/>
<rect x="1116.6" y="434.15" width="18.2" height="17.8" fill="#ff4a1a"/>
<rect x="1116.6" y="455.65" width="18.2" height="17.6" fill="#10488c"/>
<text x="1138.3" y="451.75" font-size="16.4" fill="#444">PbS_10keV20nA100s</text>
<text x="1138.3" y="472.15" font-size="16.4" fill="#444">Residual[PbS_10keV20nA100s]</text>
</g>
</g>
</svg>
</body></html>
